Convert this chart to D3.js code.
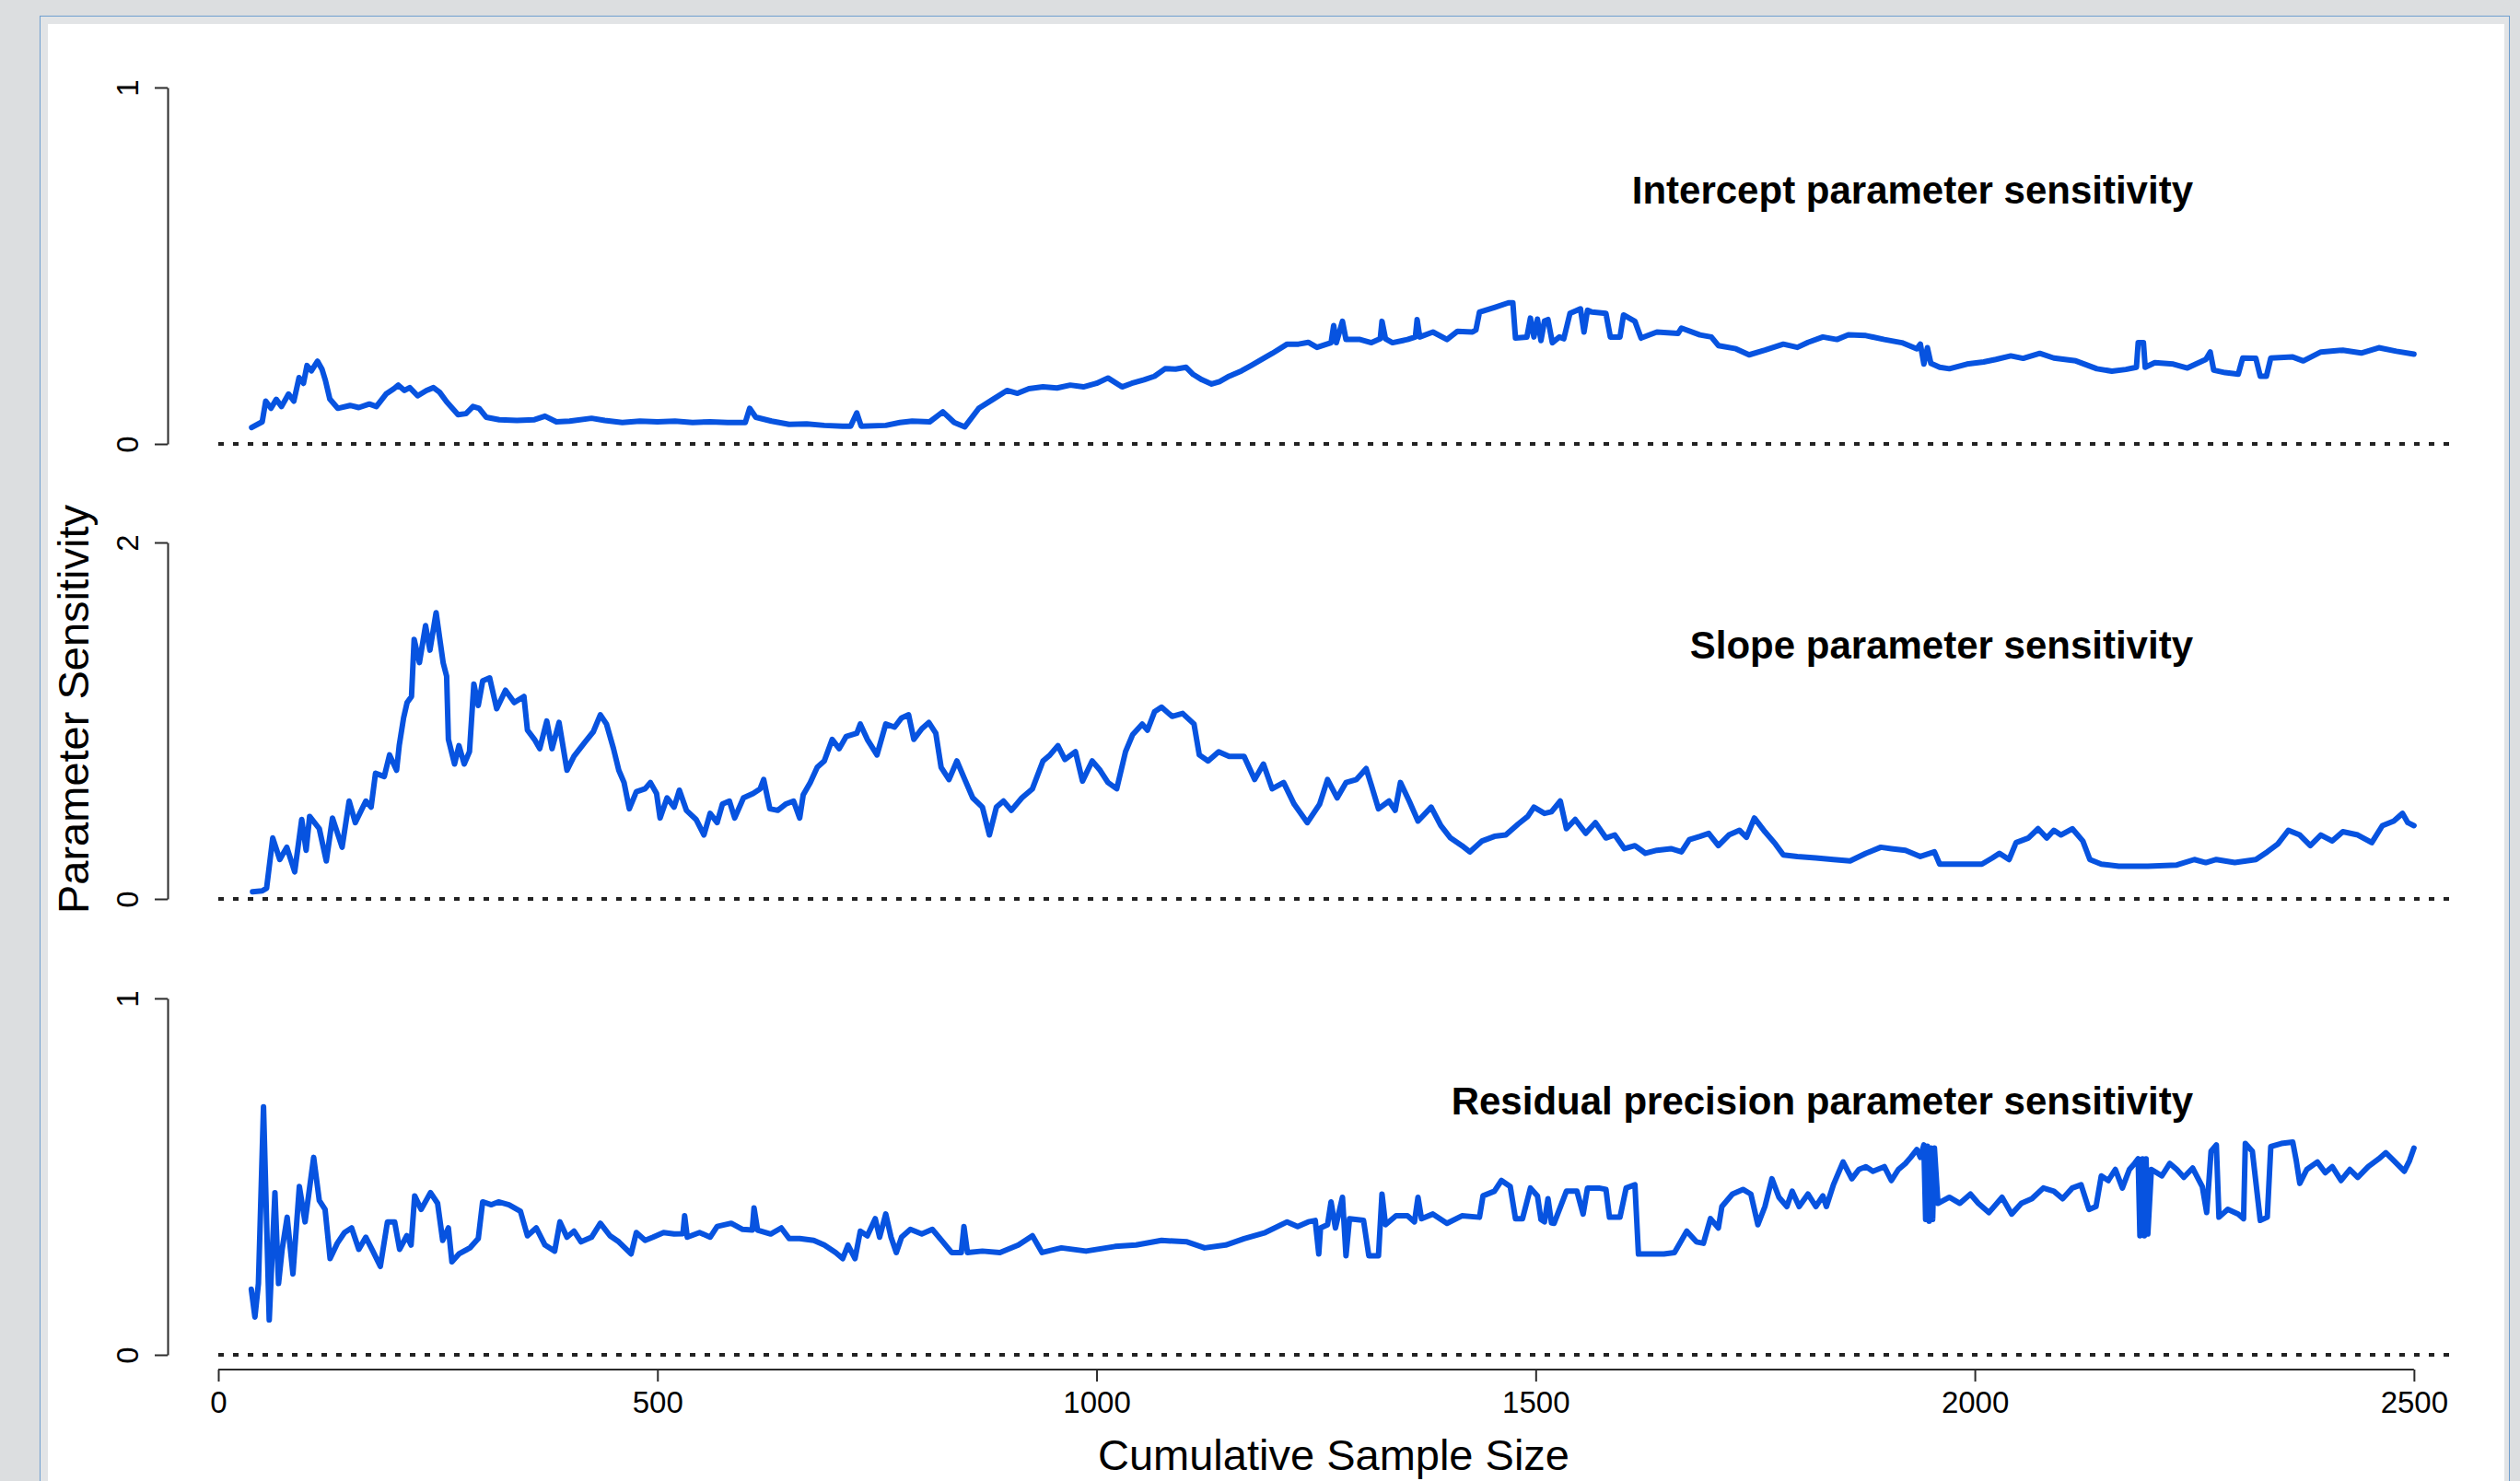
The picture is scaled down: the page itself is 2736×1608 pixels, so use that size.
<!DOCTYPE html>
<html>
<head>
<meta charset="utf-8">
<script src="https://cdn.jsdelivr.net/npm/d3@7"></script>
<style>
  html, body { margin: 0; padding: 0; background: #dcdee0; }
  svg { display: block; }
  text { font-family: "Liberation Sans", Arial, Helvetica, sans-serif; fill: #000; }
</style>
</head>
<body>
<svg id="chart" width="2736" height="1608"></svg>
<script>
// ---- data: cumulative sample size vs. sensitivity of each parameter ----
const xTicks = [0, 500, 1000, 1500, 2000, 2500];
const panelTitles = ["Intercept parameter sensitivity", "Slope parameter sensitivity", "Residual precision parameter sensitivity"];
const panelMax = [1, 2, 1];

const interceptN = [38,50,54,60,66,72,80,86,92,97,101,106,113,118,122,127,136,150,160,172,180,191,200,205,212,218,227,237,245,252,260,273,282,290,297,305,320,340,360,372,385,400,425,440,460,480,500,520,540,560,580,600,605,612,630,650,670,690,711,720,727,732,760,776,790,810,825,838,850,866,882,898,910,923,939,955,970,985,1000,1013,1029,1040,1054,1066,1078,1090,1102,1110,1120,1131,1140,1151,1165,1176,1190,1200,1217,1230,1241,1251,1267,1270,1273,1280,1284,1300,1313,1323,1325,1329,1337,1354,1363,1365,1368,1383,1399,1411,1428,1432,1436,1453,1469,1474,1477,1490,1494,1498,1502,1506,1510,1514,1519,1527,1532,1539,1551,1555,1559,1564,1580,1585,1596,1600,1613,1620,1638,1650,1662,1666,1687,1700,1708,1728,1743,1761,1782,1798,1810,1827,1843,1856,1876,1897,1917,1934,1938,1942,1946,1950,1960,1971,1991,2010,2024,2041,2055,2074,2090,2115,2139,2156,2172,2184,2186,2192,2194,2205,2226,2242,2263,2268,2272,2285,2300,2305,2320,2325,2332,2337,2362,2374,2394,2419,2440,2460,2480,2500];
const interceptS = [0.046,0.062,0.12,0.10,0.125,0.105,0.14,0.12,0.186,0.17,0.22,0.205,0.232,0.21,0.178,0.126,0.10,0.108,0.102,0.112,0.105,0.14,0.155,0.165,0.15,0.158,0.135,0.15,0.158,0.145,0.118,0.082,0.085,0.105,0.10,0.075,0.068,0.066,0.068,0.078,0.062,0.064,0.072,0.066,0.06,0.064,0.062,0.064,0.06,0.062,0.06,0.06,0.10,0.075,0.064,0.055,0.056,0.052,0.05,0.05,0.087,0.05,0.052,0.06,0.064,0.062,0.09,0.06,0.048,0.10,0.125,0.15,0.142,0.155,0.16,0.157,0.165,0.16,0.17,0.185,0.16,0.17,0.18,0.19,0.211,0.21,0.215,0.195,0.18,0.168,0.175,0.19,0.205,0.22,0.24,0.254,0.28,0.28,0.285,0.271,0.284,0.332,0.284,0.344,0.293,0.293,0.284,0.295,0.344,0.295,0.284,0.293,0.30,0.349,0.30,0.314,0.293,0.316,0.314,0.32,0.37,0.383,0.396,0.396,0.297,0.30,0.353,0.30,0.35,0.29,0.345,0.349,0.284,0.30,0.295,0.366,0.379,0.314,0.375,0.37,0.366,0.30,0.30,0.362,0.344,0.297,0.314,0.312,0.31,0.325,0.306,0.30,0.276,0.267,0.25,0.263,0.28,0.271,0.285,0.30,0.293,0.306,0.304,0.293,0.284,0.267,0.28,0.224,0.27,0.226,0.215,0.211,0.224,0.23,0.237,0.247,0.24,0.254,0.241,0.233,0.211,0.204,0.209,0.215,0.284,0.284,0.215,0.228,0.224,0.213,0.237,0.258,0.207,0.20,0.196,0.241,0.24,0.19,0.19,0.241,0.244,0.233,0.258,0.263,0.255,0.27,0.26,0.252];

const slopeN = [39,50,55,62,70,78,87,95,100,104,115,123,130,141,149,156,168,174,179,189,195,203,206,211,215,220,223,229,236,241,248,252,256,260,262,269,274,280,286,291,296,301,309,317,327,337,348,352,360,366,374,380,388,397,405,417,427,435,442,450,456,462,468,476,486,492,499,503,511,519,525,533,544,553,560,568,574,582,588,598,609,617,621,628,637,646,655,662,666,674,682,690,699,707,715,727,731,739,750,760,770,778,786,792,801,809,817,823,832,841,850,859,870,878,886,894,903,915,927,939,947,956,964,976,984,995,1004,1013,1023,1033,1041,1052,1058,1066,1074,1086,1098,1111,1117,1127,1139,1151,1168,1180,1190,1200,1213,1225,1240,1254,1263,1274,1284,1296,1307,1313,1321,1333,1340,1346,1356,1366,1381,1392,1403,1416,1425,1439,1453,1466,1480,1491,1498,1510,1518,1528,1535,1545,1557,1568,1580,1590,1601,1613,1625,1638,1654,1666,1675,1687,1697,1708,1720,1732,1740,1749,1761,1773,1782,1798,1819,1839,1858,1876,1893,1905,1921,1938,1954,1960,1983,2008,2020,2028,2039,2047,2061,2072,2082,2090,2098,2111,2123,2131,2144,2164,2197,2230,2250,2263,2275,2296,2320,2333,2345,2357,2370,2382,2394,2407,2419,2436,2452,2464,2477,2487,2493,2500];
const slopeS = [0.04,0.045,0.06,0.342,0.221,0.29,0.152,0.446,0.273,0.463,0.394,0.213,0.454,0.29,0.549,0.428,0.549,0.515,0.705,0.687,0.808,0.722,0.86,1.016,1.102,1.136,1.456,1.326,1.534,1.396,1.606,1.465,1.326,1.249,0.895,0.757,0.86,0.757,0.826,1.206,1.085,1.223,1.24,1.067,1.171,1.102,1.136,0.947,0.895,0.843,0.998,0.843,0.99,0.722,0.8,0.877,0.938,1.033,0.981,0.843,0.722,0.653,0.506,0.601,0.618,0.653,0.592,0.454,0.567,0.515,0.61,0.497,0.446,0.359,0.48,0.428,0.532,0.549,0.454,0.567,0.592,0.618,0.67,0.506,0.497,0.532,0.549,0.454,0.584,0.653,0.739,0.774,0.895,0.843,0.912,0.929,0.981,0.895,0.808,0.981,0.964,1.016,1.033,0.895,0.955,0.99,0.929,0.739,0.67,0.774,0.67,0.567,0.515,0.359,0.515,0.549,0.497,0.567,0.618,0.774,0.808,0.86,0.782,0.826,0.661,0.774,0.722,0.653,0.618,0.826,0.921,0.981,0.947,1.05,1.076,1.024,1.041,0.981,0.808,0.774,0.826,0.8,0.8,0.67,0.757,0.618,0.653,0.532,0.428,0.532,0.67,0.567,0.653,0.67,0.731,0.636,0.506,0.549,0.497,0.653,0.549,0.437,0.515,0.411,0.342,0.299,0.264,0.325,0.351,0.359,0.42,0.463,0.515,0.48,0.489,0.549,0.394,0.446,0.368,0.428,0.342,0.359,0.282,0.299,0.256,0.273,0.282,0.264,0.333,0.351,0.368,0.299,0.359,0.385,0.346,0.454,0.377,0.308,0.247,0.238,0.23,0.221,0.213,0.256,0.29,0.282,0.273,0.238,0.264,0.195,0.195,0.195,0.23,0.256,0.221,0.316,0.342,0.394,0.342,0.385,0.359,0.394,0.325,0.221,0.195,0.183,0.183,0.19,0.221,0.204,0.221,0.204,0.221,0.264,0.308,0.385,0.359,0.299,0.359,0.325,0.377,0.359,0.316,0.411,0.437,0.48,0.428,0.411];

const precisionN = [37.6,41.7,45.7,51.5,58,64.5,68.6,72.7,78.4,85,92.3,98.8,108.6,115,121.6,127.3,135.5,143.7,151.8,160,168,176,184.5,192.6,200.8,206.5,214.6,219.5,223.6,231,241.6,249.7,255.5,262,266,274,286.5,296,301,311,319,331,344,352,362,372,383,389,397,405,413,425,435,446,456,470,476,486,495,507,519,529,531,534,548,560,568,584,597,608,610,614,629,641,650,662,678,690,703,711,717,725,731,739,748,753,760,766,772,778,788,801,813,825,835,846,849,853,870,890,911,927,938,960,988,1021,1045,1074,1103,1123,1147,1168,1192,1217,1229,1241,1249,1253,1255,1263,1267,1272,1280,1284,1288,1304,1310,1321,1325,1329,1341,1354,1362,1366,1370,1383,1399,1416,1436,1440,1453,1461,1471,1477,1485,1494,1502,1506,1510,1514,1518,1521,1535,1547,1554,1559,1572,1580,1584,1596,1603,1613,1617,1646,1658,1666,1672,1683,1691,1699,1708,1712,1724,1736,1745,1753,1761,1769,1777,1786,1792,1800,1810,1819,1827,1831,1839,1850,1860,1868,1876,1884,1897,1905,1913,1921,1927,1934,1938,1942,1944,1946,1948,1950,1952,1954,1958,1971,1983,1995,2004,2016,2031,2042,2053,2065,2078,2090,2100,2111,2121,2130,2138,2144,2152,2160,2168,2176,2182,2186,2188,2191,2193,2195,2197,2201,2213,2222,2230,2238,2248,2259,2264,2269,2275,2278,2288,2300,2306,2308,2316,2325,2333,2337,2349,2362,2366,2370,2378,2390,2399,2407,2417,2427,2436,2448,2460,2468,2477,2489,2495,2500];
const precisionS = [0.184,0.106,0.2,0.696,0.098,0.455,0.2,0.296,0.386,0.227,0.472,0.373,0.554,0.433,0.408,0.27,0.313,0.343,0.356,0.296,0.33,0.291,0.248,0.373,0.373,0.296,0.334,0.308,0.446,0.408,0.455,0.425,0.321,0.356,0.261,0.283,0.3,0.326,0.429,0.421,0.429,0.421,0.403,0.334,0.356,0.308,0.291,0.373,0.33,0.347,0.317,0.33,0.369,0.334,0.317,0.283,0.343,0.321,0.33,0.343,0.339,0.34,0.39,0.33,0.343,0.33,0.36,0.369,0.352,0.35,0.412,0.35,0.339,0.356,0.326,0.326,0.321,0.308,0.287,0.27,0.308,0.27,0.347,0.334,0.382,0.33,0.395,0.33,0.287,0.33,0.352,0.339,0.352,0.317,0.287,0.287,0.36,0.287,0.291,0.287,0.308,0.334,0.287,0.30,0.291,0.304,0.308,0.321,0.317,0.30,0.308,0.326,0.343,0.373,0.36,0.373,0.377,0.283,0.356,0.365,0.429,0.356,0.442,0.278,0.382,0.377,0.278,0.278,0.451,0.365,0.39,0.39,0.373,0.442,0.382,0.395,0.369,0.39,0.386,0.446,0.459,0.489,0.472,0.382,0.382,0.468,0.446,0.38,0.373,0.438,0.37,0.369,0.459,0.459,0.395,0.468,0.468,0.464,0.386,0.386,0.468,0.477,0.283,0.283,0.287,0.321,0.347,0.317,0.313,0.382,0.356,0.416,0.451,0.464,0.451,0.365,0.416,0.494,0.442,0.416,0.459,0.416,0.451,0.416,0.446,0.416,0.477,0.541,0.494,0.52,0.528,0.515,0.528,0.489,0.52,0.537,0.554,0.576,0.554,0.589,0.38,0.585,0.375,0.58,0.38,0.58,0.425,0.442,0.425,0.451,0.425,0.399,0.442,0.395,0.425,0.438,0.468,0.459,0.438,0.468,0.477,0.408,0.416,0.502,0.489,0.52,0.468,0.52,0.537,0.55,0.334,0.55,0.334,0.55,0.339,0.52,0.502,0.537,0.52,0.498,0.524,0.472,0.399,0.571,0.589,0.386,0.408,0.395,0.382,0.593,0.571,0.377,0.386,0.584,0.593,0.597,0.545,0.481,0.52,0.541,0.511,0.528,0.489,0.52,0.498,0.528,0.55,0.567,0.545,0.515,0.545,0.58];

const seriesN = [interceptN, slopeN, precisionN];
const seriesS = [interceptS, slopeS, precisionS];

// ---- layout ----
const W = 2736, H = 1608;
const svg = d3.select("#chart");
const lineColor = "#0753e0";
const axisColor = "#2b2b2b";

// window frame around the figure
svg.append("rect").attr("x", 0).attr("y", 0).attr("width", W).attr("height", H).attr("fill", "#dcdee0");
svg.append("rect").attr("x", 43.5).attr("y", 17.5).attr("width", 2681).attr("height", H)
  .attr("fill", "#e2e4e6").attr("stroke", "#6f9fcf").attr("stroke-width", 1);
svg.append("rect").attr("x", 52).attr("y", 26).attr("width", 2667).attr("height", H)
  .attr("fill", "#ffffff");

const x = d3.scaleLinear().domain([0, 2540]).range([237, 2659]);
const panelBottom = [482, 976, 1471];
const panelHeight = 387;
const yAxisX = 182;

panelTitles.forEach((title, i) => {
  const y0 = panelBottom[i];
  const y = d3.scaleLinear().domain([0, panelMax[i]]).range([y0, y0 - panelHeight]);
  const g = svg.append("g");

  // zero reference line
  g.append("line")
    .attr("x1", x(0)).attr("x2", x.range()[1])
    .attr("y1", y(0)).attr("y2", y(0))
    .attr("stroke", "#222").attr("stroke-width", 4)
    .attr("stroke-dasharray", "6,10");

  // sensitivity trace
  const pts = seriesN[i].map((n, k) => [n, seriesS[i][k]]);
  g.append("path")
    .datum(pts)
    .attr("fill", "none")
    .attr("stroke", lineColor)
    .attr("stroke-width", 6)
    .attr("stroke-linejoin", "round")
    .attr("stroke-linecap", "round")
    .attr("d", d3.line().x(d => x(d[0])).y(d => y(d[1])));

  // left axis: only the two end ticks, labels rotated along the axis
  const ay = g.append("g").attr("transform", `translate(${yAxisX},0)`)
    .call(d3.axisLeft(y).tickValues([0, panelMax[i]]).tickSize(14).tickSizeOuter(0).tickFormat(d3.format("d")));
  ay.select(".domain").attr("stroke", axisColor).attr("stroke-width", 2);
  ay.selectAll(".tick line").attr("stroke", axisColor).attr("stroke-width", 2);
  ay.selectAll(".tick text")
    .attr("x", null).attr("dy", null)
    .attr("transform", "translate(-32,0) rotate(-90)")
    .attr("text-anchor", "middle")
    .attr("font-size", 33)
    .attr("font-family", "Liberation Sans, Arial, sans-serif")
    .attr("fill", "#111");

  // panel heading
  g.append("text")
    .attr("x", 2381).attr("y", y0 - 261)
    .attr("text-anchor", "end")
    .attr("font-size", 42).attr("font-weight", "bold")
    .text(title);
});

// bottom axis
const ax = svg.append("g").attr("transform", "translate(0,1487)")
  .call(d3.axisBottom(x).tickValues(xTicks).tickSize(13).tickSizeOuter(0).tickFormat(d3.format("d")));
ax.select(".domain").attr("stroke", axisColor).attr("stroke-width", 2)
  .attr("d", `M${x(0)},0H${x(2500)}`);
ax.selectAll(".tick line").attr("stroke", axisColor).attr("stroke-width", 2);
ax.selectAll(".tick text")
  .attr("y", 47).attr("dy", null)
  .attr("font-size", 33)
  .attr("font-family", "Liberation Sans, Arial, sans-serif")
  .attr("fill", "#111");

// axis titles
svg.append("text")
  .attr("transform", "translate(96,770) rotate(-90)")
  .attr("text-anchor", "middle")
  .attr("font-size", 47)
  .text("Parameter Sensitivity");

svg.append("text")
  .attr("x", 1448).attr("y", 1596)
  .attr("text-anchor", "middle")
  .attr("font-size", 47)
  .text("Cumulative Sample Size");
</script>
</body>
</html>
